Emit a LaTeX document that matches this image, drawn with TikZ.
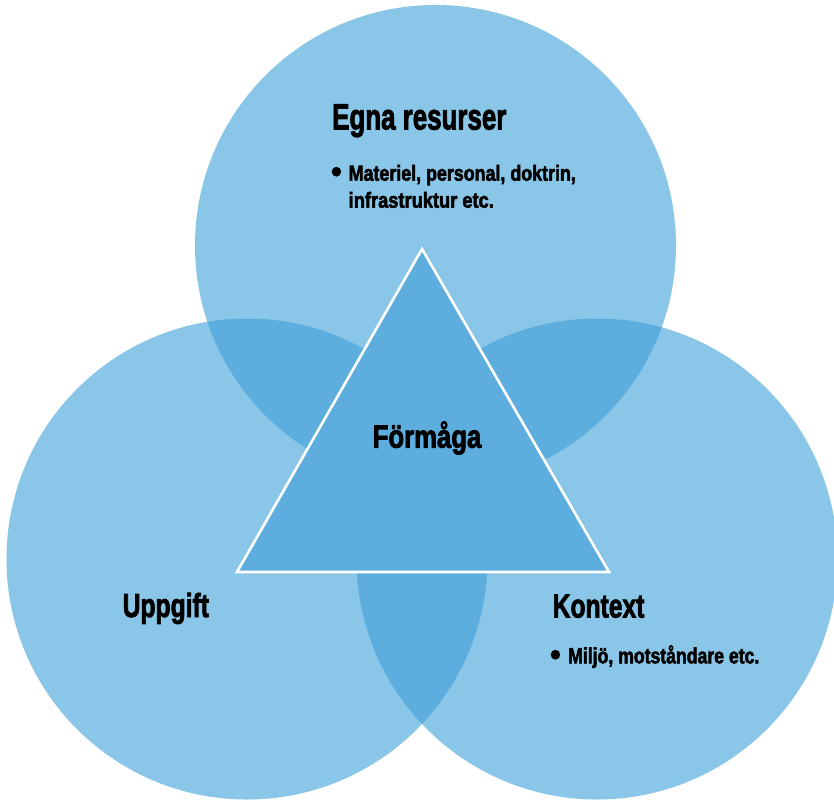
\documentclass[tikz,border=0pt]{standalone}
\usepackage{fontspec}
\setmainfont{Liberation Sans}
\newfontfamily\condbold{Liberation Sans}[FakeBold=2.6]
\definecolor{circlefill}{RGB}{138,198,231}
\definecolor{overlapfill}{RGB}{93,174,222}
\tikzset{
  venn/.style={fill=circlefill},
  heading/.style={anchor=base west, inner sep=0pt, text=black},
  itemtext/.style={anchor=base west, inner sep=0pt, text=black},
  corebox/.style={fill=overlapfill, draw=white, line width=2.6pt, line join=miter}
}
% horizontally condensed bold label: size, horizontal scale, text
\newcommand{\condtxt}[3]{\fontsize{#1}{#1}\condbold\bfseries\scalebox{#2}[1.04]{#3}}
\begin{document}
\begin{tikzpicture}[x=1pt,y=-1pt]
  \useasboundingbox (0,0) rectangle (834,800);
  \clip (0,0) rectangle (834,800);
  \fill[white] (0,0) rectangle (834,800);

  % circle centres
  \coordinate (ctop)   at (435.5,245.5);
  \coordinate (cleft)  at (247,559);
  \coordinate (cright) at (597,559);
  \def\rad{240.5}

  % the three sets
  \fill[venn] (ctop) circle (\rad);
  \fill[venn] (cleft) circle (\rad);
  \fill[venn] (cright) circle (\rad);

  % pairwise overlaps
  \begin{scope}
    \clip (ctop) circle (\rad);
    \fill[overlapfill] (cleft) circle (\rad);
    \fill[overlapfill] (cright) circle (\rad);
  \end{scope}
  \begin{scope}
    \clip (cleft) circle (\rad);
    \fill[overlapfill] (cright) circle (\rad);
  \end{scope}

  % central triangle
  \coordinate (tapex)  at (422,249);
  \coordinate (tleft)  at (237,572);
  \coordinate (tright) at (609,572);
  \filldraw[corebox] (tapex) -- (tleft) -- (tright) -- cycle;

  % labels
  \node[heading] (egna) at (332,129.5) {\condtxt{35}{0.74}{Egna resurser}};
  \node[itemtext] (b1) at (331,182) {\condtxt{30}{1}{\textbullet}};
  \node[itemtext] (egnaA) at (348.5,180.7) {\condtxt{21}{0.85}{Materiel, personal, doktrin,}};
  \node[itemtext] (egnaB) at (348.5,207.7) {\condtxt{21}{0.87}{infrastruktur etc.}};

  \node[heading] (formaga) at (372.5,447.7) {\condtxt{31}{0.83}{Förmåga}};

  \node[heading] (uppgift) at (122.5,617) {\condtxt{32}{0.77}{Uppgift}};

  \node[heading] (kontext) at (552.5,617.5) {\condtxt{32}{0.77}{Kontext}};
  \node[itemtext] (b2) at (550,665) {\condtxt{30}{1}{\textbullet}};
  \node[itemtext] (kontextA) at (568,663.3) {\condtxt{21}{0.84}{Miljö, motståndare etc.}};
\end{tikzpicture}
\end{document}
